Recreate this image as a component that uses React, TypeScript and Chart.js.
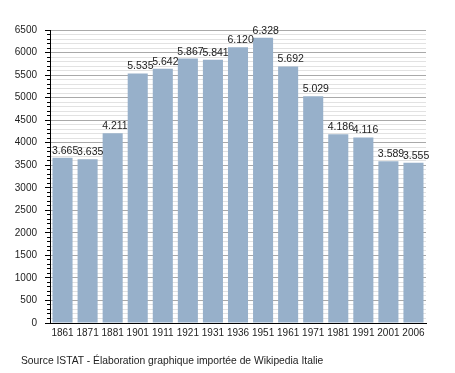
import React, { useEffect, useRef } from "react";
import { Chart, registerables } from "chart.js";

Chart.register(...registerables);

const years = ["1861", "1871", "1881", "1901", "1911", "1921", "1931", "1936", "1951", "1961", "1971", "1981", "1991", "2001", "2006"];
const population = [3665, 3635, 4211, 5535, 5642, 5867, 5841, 6120, 6328, 5692, 5029, 4186, 4116, 3589, 3555];
const yMax = 6500;
const yMinorStep = 100;
const yMajorStep = 500;
const footerText = "Source ISTAT - Élaboration graphique importée de Wikipedia Italie";

const FONT = "'Liberation Sans', Arial, sans-serif";

function fmt(v: number): string {
  return String(v).replace(/\B(?=(\d{3})+(?!\d))/g, ".");
}

const tickMarksPlugin = {
  id: "tickMarks",
  afterDraw(chart: any) {
    const scale = chart.scales.y;
    const ctx = chart.ctx;
    const left = chart.chartArea.left;
    ctx.save();
    ctx.strokeStyle = "#000";
    ctx.lineWidth = 1;
    scale.ticks.forEach((t: any) => {
      const y = Math.round(scale.getPixelForValue(t.value) - 0.5) + 0.5;
      const len = t.value % yMajorStep === 0 ? 5 : 3;
      ctx.beginPath();
      ctx.moveTo(left - len, y);
      ctx.lineTo(left, y);
      ctx.stroke();
    });
    ctx.restore();
  },
};

const barLabelsPlugin = {
  id: "barLabels",
  afterDatasetsDraw(chart: any) {
    const ctx = chart.ctx;
    const meta = chart.getDatasetMeta(0);
    const data = chart.data.datasets[0].data;
    ctx.save();
    ctx.font = `10.5px ${FONT}`;
    ctx.fillStyle = "#222";
    ctx.textAlign = "left";
    ctx.textBaseline = "alphabetic";
    meta.data.forEach((bar: any, i: number) => {
      const { x, y, width } = bar.getProps(["x", "y", "width"], true);
      ctx.fillText(fmt(data[i]), x - width / 2 - 0.5, y - 4);
    });
    ctx.restore();
  },
};

export default function App() {
  const canvasRef = useRef<HTMLCanvasElement | null>(null);

  useEffect(() => {
    if (!canvasRef.current) return;
    const chart = new Chart(canvasRef.current, {
      type: "bar",
      data: {
        labels: years,
        datasets: [
          {
            data: population,
            backgroundColor: "#97b0ca",
            borderWidth: 0,
            barPercentage: 0.8,
            categoryPercentage: 1,
          },
        ],
      },
      options: {
        animation: false,
        responsive: false,
        devicePixelRatio: 1,
        layout: { padding: { left: 0, top: 30, right: 29, bottom: 0 } },
        plugins: {
          legend: { display: false },
          tooltip: { enabled: false },
          title: { display: false },
        },
        scales: {
          x: {
            type: "category",
            grid: { display: false, drawTicks: false },
            border: { display: true, color: "#000", width: 1 },
            ticks: {
              font: { family: FONT, size: 10 },
              color: "#222",
              padding: 4,
              autoSkip: false,
              maxRotation: 0,
              minRotation: 0,
            },
            afterFit(scale: any) {
              scale.height = 50;
            },
          },
          y: {
            type: "linear",
            min: 0,
            max: yMax,
            grid: {
              color: (c: any) => (c.tick && c.tick.value % yMajorStep === 0 ? "#a9a9a9" : "#e2e2e2"),
              lineWidth: 1,
              drawTicks: true,
              tickLength: 5,
              tickColor: "rgba(0,0,0,0)",
            },
            border: { display: true, color: "#000", width: 1 },
            ticks: {
              stepSize: yMinorStep,
              autoSkip: false,
              font: { family: FONT, size: 10 },
              color: "#222",
              padding: 8,
              callback: (v: any) => (Number(v) % yMajorStep === 0 ? String(v) : ""),
            },
            afterFit(scale: any) {
              scale.width = 50;
            },
          },
        },
      },
      plugins: [tickMarksPlugin, barLabelsPlugin],
    });
    return () => chart.destroy();
  }, []);

  return (
    <div style={{ position: "absolute", left: 0, top: 0, width: 455, height: 373, background: "#fff" }}>
      <canvas ref={canvasRef} width={455} height={373} style={{ display: "block" }} />
      <div
        style={{
          position: "absolute",
          left: 21,
          top: 355,
          fontFamily: FONT,
          fontSize: "10.3px",
          lineHeight: "12px",
          color: "#222",
          whiteSpace: "nowrap",
        }}
      >
        {footerText}
      </div>
    </div>
  );
}
